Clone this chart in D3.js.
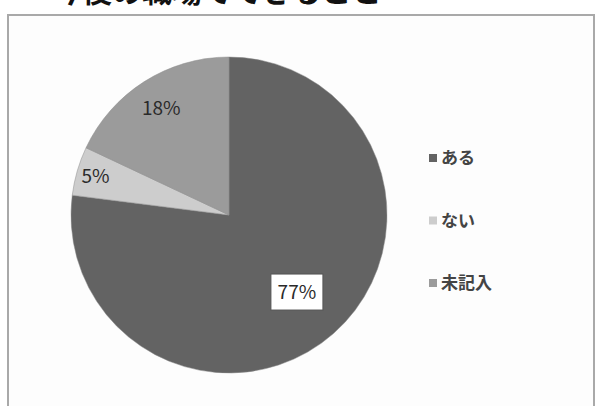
<!DOCTYPE html>
<html>
<head>
<meta charset="utf-8">
<script src="https://cdn.jsdelivr.net/npm/d3@7"></script>
<style>
  body { margin: 0; background: #fff; }
  text { font-family: "Noto Sans CJK JP", sans-serif; }
</style>
</head>
<body>
<div id="chart"></div>
<script>
// data
var categories = ["ある", "ない", "未記入"];
var values = [77, 5, 18];
var colors = ["#636363", "#cdcdcd", "#9b9b9b"];
var titleText = "・今後の職場でできること";

var width = 596, height = 406;

var svg = d3.select("#chart")
  .append("svg")
    .attr("width", width)
    .attr("height", height);

// title (cut at the top in the source)
svg.append("text")
  .attr("x", 22)
  .attr("y", 2)
  .attr("font-size", "30px")
  .attr("font-weight", "bold")
  .attr("fill", "#111")
  .text(titleText);

// chart frame
svg.append("rect")
  .attr("x", 8)
  .attr("y", 15)
  .attr("width", 586)
  .attr("height", 400)
  .attr("fill", "#fdfdfd")
  .attr("stroke", "#a9a9a9")
  .attr("stroke-width", 2);

var cx = 229, cy = 215, r = 158;

var pie = d3.pie().sort(null).value(d => d);
var arcs = pie(values);
var arc = d3.arc().innerRadius(0).outerRadius(r);

var g = svg.append("g")
  .attr("transform", "translate(" + cx + "," + cy + ")");

g.selectAll("path")
  .data(arcs)
  .enter()
  .append("path")
  .attr("d", arc)
  .attr("fill", (d, i) => colors[i])
  .attr("stroke", "#8a8a8a")
  .attr("stroke-width", 0.5);

// labels
var labelR = [0.65, 0.88, 0.8];

arcs.forEach(function(d, i) {
  var lr = r * labelR[i];
  var c = d3.arc().innerRadius(lr).outerRadius(lr).centroid(d);
  var t = d.data + "%";
  if (i === 0) {
    g.append("rect")
      .attr("x", c[0] - 26)
      .attr("y", c[1] - 18)
      .attr("width", 52)
      .attr("height", 36)
      .attr("fill", "#fff")
      .attr("stroke", "#555")
      .attr("stroke-width", 1);
  }
  g.append("text")
    .attr("x", c[0])
    .attr("y", c[1])
    .attr("dy", "0.36em")
    .attr("text-anchor", "middle")
    .attr("font-family", "Liberation Sans, sans-serif")
    .attr("font-size", "19px")
    .attr("fill", "#2a2a2a")
    .text(t);
});

// legend
var legendY = d3.scalePoint()
  .domain(categories)
  .range([158, 283]);

var legend = svg.append("g");
legend.selectAll("rect")
  .data(categories)
  .enter()
  .append("rect")
  .attr("x", 429)
  .attr("y", d => legendY(d) - 4)
  .attr("width", 8)
  .attr("height", 8)
  .attr("fill", (d, i) => colors[i]);

legend.selectAll("text")
  .data(categories)
  .enter()
  .append("text")
  .attr("x", 441)
  .attr("y", d => legendY(d))
  .attr("dy", "0.36em")
  .attr("font-size", "17px")
  .attr("font-weight", "bold")
  .attr("fill", "#444")
  .text(d => d);
</script>
</body>
</html>
